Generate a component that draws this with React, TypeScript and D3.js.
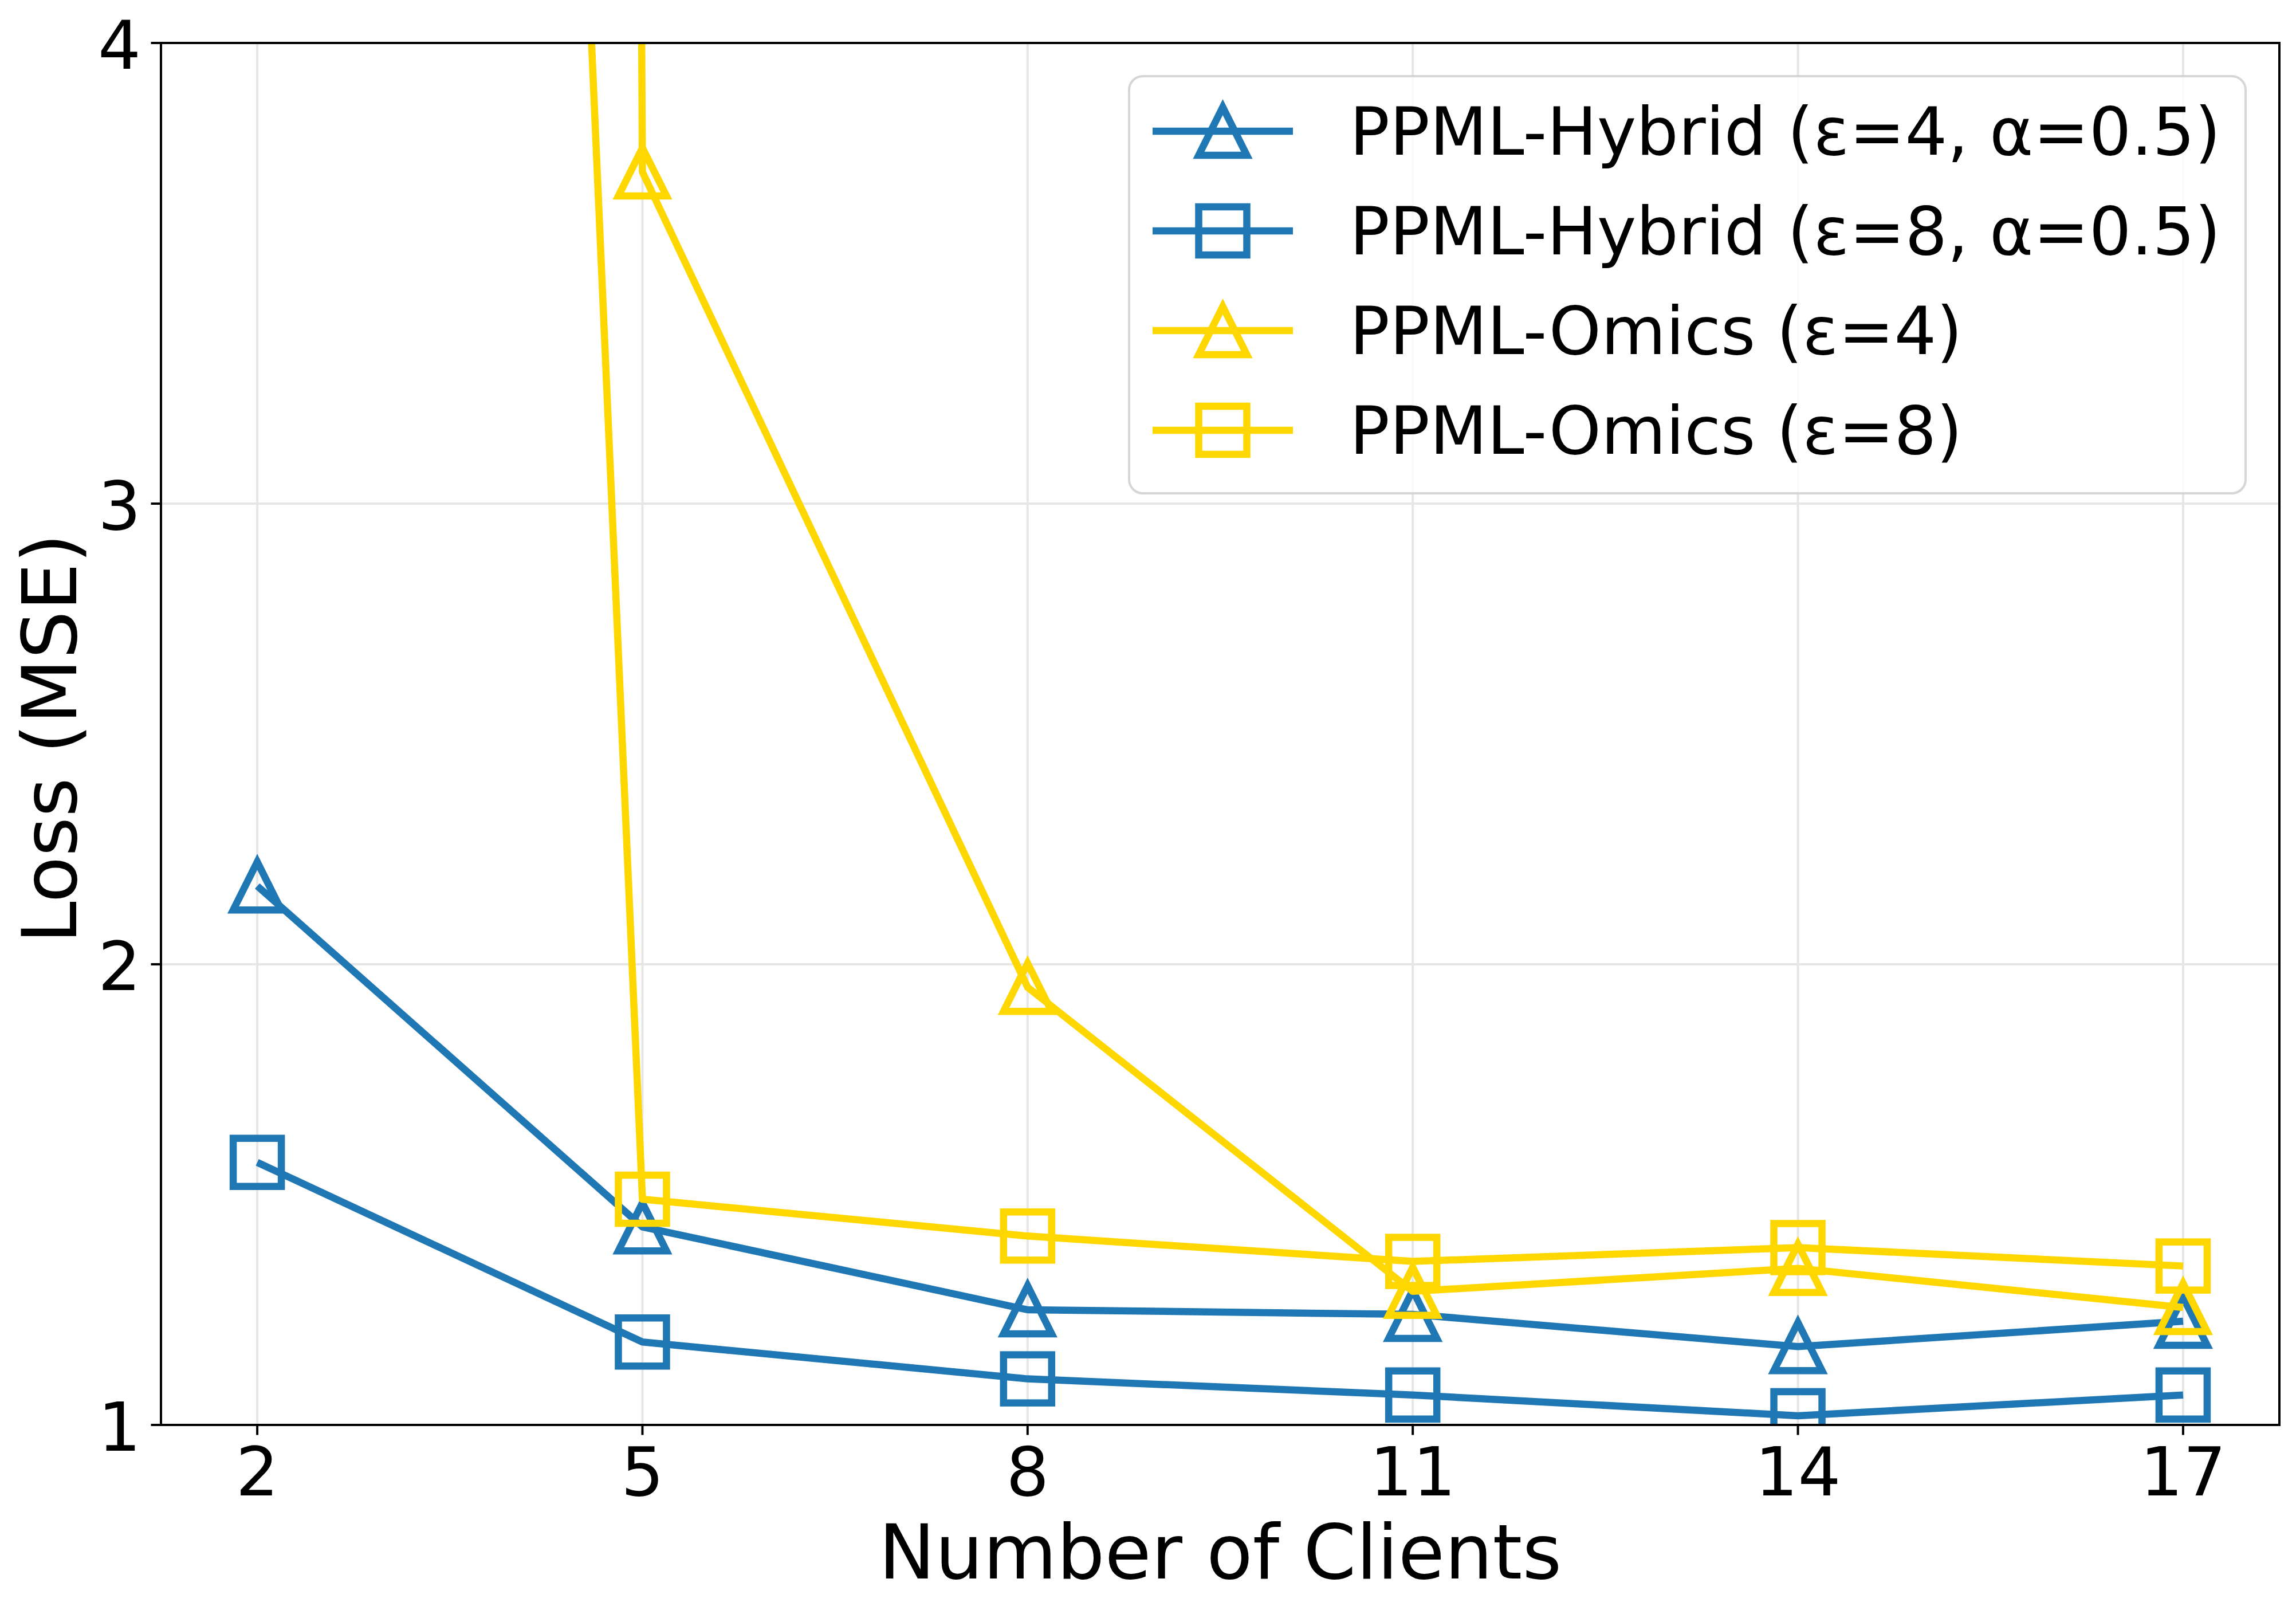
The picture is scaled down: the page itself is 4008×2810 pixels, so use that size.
import React from 'react';
import * as d3 from 'd3';

// x: number of clients
const clients = [2, 5, 8, 11, 14, 17];

// loss (MSE) per series
const hybridEps4 = [2.17, 1.43, 1.25, 1.24, 1.17, 1.225];
const hybridEps8 = [1.57, 1.18, 1.1, 1.065, 1.02, 1.065];
const omicsEps4 = [150, 3.72, 1.95, 1.29, 1.34, 1.255];
const omicsEps8 = [20.5, 1.49, 1.41, 1.355, 1.385, 1.345];

const seriesLabels = [
  'PPML-Hybrid (ε=4, α=0.5)',
  'PPML-Hybrid (ε=8, α=0.5)',
  'PPML-Omics (ε=4)',
  'PPML-Omics (ε=8)',
];

const xTicks = [2, 5, 8, 11, 14, 17];
const yTicks = [1, 2, 3, 4];

const BLUE = '#1f77b4';
const GOLD = '#FFD700';

const W = 4008;
const H = 2810;
const margin = { left: 281, right: W - 3979, top: 75, bottom: H - 2487 };
const FONT = '"DejaVu Sans", sans-serif';

const MS = 84; // marker size
const MEW = 12.5; // marker edge width
const LW = 12.5; // line width

const Marker: React.FC<{ shape: 'tri' | 'sq'; x: number; y: number; color: string }> = ({ shape, x, y, color }) => {
  const h = MS / 2;
  if (shape === 'tri') {
    return (
      <path
        d={`M${x},${y - h}L${x - h},${y + h}L${x + h},${y + h}Z`}
        fill="none"
        stroke={color}
        strokeWidth={MEW}
        strokeLinejoin="miter"
        strokeMiterlimit={10}
      />
    );
  }
  return (
    <rect x={x - h} y={y - h} width={MS} height={MS} fill="none" stroke={color} strokeWidth={MEW} strokeLinejoin="miter" />
  );
};

export default function App() {
  const x0 = margin.left;
  const x1 = W - margin.right;
  const y0 = margin.top;
  const y1 = H - margin.bottom;

  const xScale = d3.scaleLinear().domain([1.25, 17.75]).range([x0, x1]);
  const yScale = d3.scaleLinear().domain([1, 4]).range([y1, y0]);

  const series = [
    { values: hybridEps4, color: BLUE, shape: 'tri' as const, label: seriesLabels[0] },
    { values: hybridEps8, color: BLUE, shape: 'sq' as const, label: seriesLabels[1] },
    { values: omicsEps4, color: GOLD, shape: 'tri' as const, label: seriesLabels[2] },
    { values: omicsEps8, color: GOLD, shape: 'sq' as const, label: seriesLabels[3] },
  ];

  const line = d3
    .line<number>()
    .x((_, i) => xScale(clients[i]))
    .y((d) => yScale(d));

  // legend layout
  const lg = { x: 1971, y: 133, w: 3920 - 1971, h: 861 - 133 };
  const rowY = (i: number) => 229 + i * 174;
  const handleX0 = 2012;
  const handleX1 = 2257;
  const textX = 2356;

  return (
    <svg
      width={W}
      height={H}
      style={{ position: 'absolute', left: 0, top: 0, background: '#fff' }}
      fontFamily={FONT}
    >
      <defs>
        <clipPath id="plot-area">
          <rect x={x0} y={y0} width={x1 - x0} height={y1 - y0} />
        </clipPath>
      </defs>
      <rect x={0} y={0} width={W} height={H} fill="#fff" />

      {/* grid */}
      <g stroke="#e6e6e6" strokeWidth={4}>
        {xTicks.map((t) => (
          <line key={`gx${t}`} x1={xScale(t)} x2={xScale(t)} y1={y0} y2={y1} />
        ))}
        {yTicks.map((t) => (
          <line key={`gy${t}`} x1={x0} x2={x1} y1={yScale(t)} y2={yScale(t)} />
        ))}
      </g>

      {/* series */}
      <g clipPath="url(#plot-area)">
        {series.map((s, si) => (
          <g key={si}>
            <path d={line(s.values) || ''} fill="none" stroke={s.color} strokeWidth={LW} strokeLinejoin="round" strokeLinecap="butt" />
            {s.values.map((v, i) => (
              <Marker key={i} shape={s.shape} x={xScale(clients[i])} y={yScale(v)} color={s.color} />
            ))}
          </g>
        ))}
      </g>

      {/* spines */}
      <rect x={x0} y={y0} width={x1 - x0} height={y1 - y0} fill="none" stroke="#000" strokeWidth={4} />

      {/* x ticks */}
      {xTicks.map((t) => (
        <g key={`xt${t}`}>
          <line x1={xScale(t)} x2={xScale(t)} y1={y1} y2={y1 + 17.5} stroke="#000" strokeWidth={4} />
          <text x={xScale(t)} y={2610} fontSize={118} textAnchor="middle" fill="#000">
            {t}
          </text>
        </g>
      ))}

      {/* y ticks */}
      {yTicks.map((t) => (
        <g key={`yt${t}`}>
          <line x1={x0 - 17.5} x2={x0} y1={yScale(t)} y2={yScale(t)} stroke="#000" strokeWidth={4} />
          <text x={246} y={yScale(t) + 45} fontSize={118} textAnchor="end" fill="#000">
            {t}
          </text>
        </g>
      ))}

      {/* axis labels */}
      <text x={(x0 + x1) / 2} y={2755} fontSize={132} textAnchor="middle" fill="#000">
        Number of Clients
      </text>
      <text
        transform={`translate(133,${(y0 + y1) / 2 + 8}) rotate(-90)`}
        fontSize={132}
        textAnchor="middle"
        fill="#000"
      >
        Loss (MSE)
      </text>

      {/* legend */}
      <g>
        <rect
          x={lg.x}
          y={lg.y}
          width={lg.w}
          height={lg.h}
          rx={24}
          ry={24}
          fill="#fff"
          fillOpacity={0.8}
          stroke="#cccccc"
          strokeOpacity={0.8}
          strokeWidth={4}
        />
        {series.map((s, i) => (
          <g key={`lg${i}`}>
            <line x1={handleX0} x2={handleX1} y1={rowY(i)} y2={rowY(i)} stroke={s.color} strokeWidth={LW} />
            <Marker shape={s.shape} x={(handleX0 + handleX1) / 2} y={rowY(i)} color={s.color} />
            <text x={textX} y={rowY(i) + 41} fontSize={116} fill="#000">
              {s.label}
            </text>
          </g>
        ))}
      </g>
    </svg>
  );
}
